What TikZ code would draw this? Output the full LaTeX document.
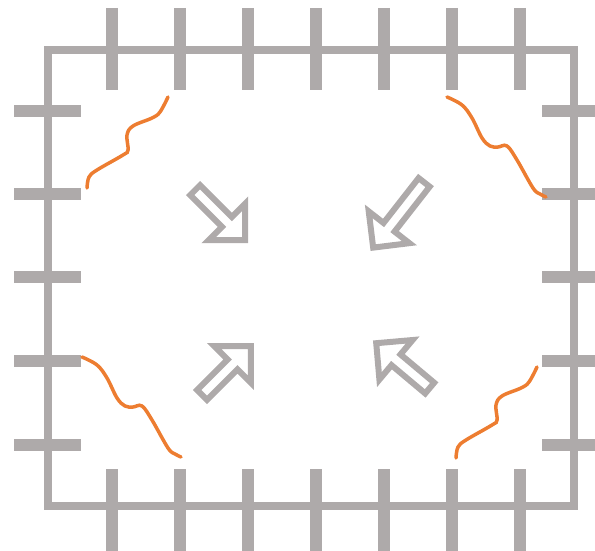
\documentclass[tikz,border=0pt]{standalone}
\usepackage{xcolor}
\usepackage{tikz}
\definecolor{wallgray}{HTML}{AEAAAA}
\definecolor{crackorange}{HTML}{ED7D31}
\tikzset{
  wallline/.style={draw=wallgray, line width=8pt},
  tickbar/.style={draw=wallgray, line width=12pt},
  crackline/.style={draw=crackorange, line width=3.5pt, line cap=round},
  pressarrow/.style={draw=wallgray, line width=6pt, line join=miter, miter limit=10}
}
% block arrow: tail x, tail y, angle, length
\newcommand{\pressarrowat}[4]{%
  \draw[pressarrow, shift={(#1,#2)}, rotate=#3]
    (3,7) -- ({#4-30},7) -- ({#4-30},25.8) -- ({#4-4.2},0)
    -- ({#4-30},-25.8) -- ({#4-30},-7) -- (3,-7) -- cycle;
}

\begin{document}
\begin{tikzpicture}[x=1pt, y=-1pt]
    \clip (0,0) rectangle (595,551);
    \def\xL{47.5} \def\xR{574} \def\yT{50} \def\yB{506}

    % Wall
    \draw[wallline] (\xL,\yT) rectangle (\xR,\yB);

    % Top and bottom ticks
    \foreach \x in {112,180,248,316,384,452,520}{
      \draw[tickbar] (\x,8) -- (\x,90);
      \draw[tickbar] (\x,469) -- (\x,560);
    }

    % Left and right ticks
    \foreach \y in {111,194,277,361,445}{
      \draw[tickbar] (14,\y) -- (81,\y);
      \draw[tickbar] (542,\y) -- (610,\y);
    }

    % Cracks
    \foreach \dx/\dy in {0/0, 369/270}{
      \draw[crackline, shift={(\dx,\dy)}] plot[smooth, tension=0.6] coordinates {
        (168,97) (160,112) (152,118) (133,126) (127,135) (128,150)
        (123,155) (97,170) (89,177) (87,188)};
    }
    \foreach \dx/\dy in {0/0, -365/260}{
      \draw[crackline, shift={(\dx,\dy)}] plot[smooth, tension=0.6] coordinates {
        (447,97) (462,105) (472,118) (482,138) (490,146) (498,147)
        (507,146) (517,160) (533,188) (540,194) (546,197)};
    }

    % Inward arrows
    \foreach \x/\y/\a/\l in {193/188/-45/78, 426/180/-128/90,
                             200/397/45/76, 432/390/140/77}{
      \pressarrowat{\x}{\y}{\a}{\l}
    }
\end{tikzpicture}
\end{document}
